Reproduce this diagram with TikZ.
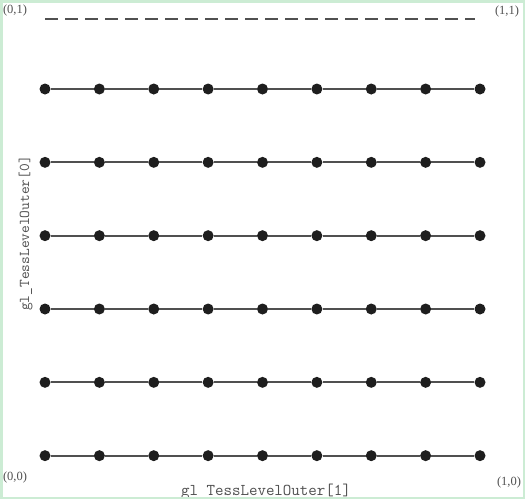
\documentclass[tikz,border=0pt]{standalone}
\usepackage{fontspec}
\setmainfont{Liberation Serif}
\definecolor{frame}{RGB}{204,236,212}
\definecolor{txt}{RGB}{80,80,80}
\definecolor{edge}{RGB}{80,80,80}
\definecolor{dotc}{RGB}{30,30,30}
\begin{document}
\begin{tikzpicture}[x=1pt,y=-1pt,
  dotnode/.style={circle,fill=dotc,inner sep=0pt,minimum size=11pt},
  seg/.style={draw=edge,line width=1.8pt},
  dashline/.style={draw=edge,line width=1.8pt,dash pattern=on 13pt off 7pt},
  corner/.style={text=txt,font=\fontsize{12.5}{14}\selectfont,inner sep=0pt},
  codelabel/.style={text=txt,font=\ttfamily\fontsize{16.5}{18}\selectfont,inner sep=0pt},
  codelabelv/.style={text=txt,font=\ttfamily\fontsize{15}{17}\selectfont,inner sep=0pt}]
\useasboundingbox (0,0) rectangle (525,499);
\fill[white] (0,0) rectangle (525,499);
% dots
\foreach \r [count=\ri] in {89,162.33,235.67,309,382.33,455.67} {
  \foreach \c in {0,...,8} {
    \node[dotnode] (d\ri-\c) at ({45+54.375*\c},\r) {};
  }
}
% connectors
\foreach \ri in {1,...,6} {
  \foreach \c [evaluate=\c as \n using int(\c+1)] in {0,...,7} {
    \draw[seg] (d\ri-\c) -- (d\ri-\n);
  }
}
% dashed top line
\coordinate (dashL) at (45,19);
\coordinate (dashR) at (475,19);
\draw[dashline] (dashL) -- (dashR);
% corner labels
\node[corner] (c01) at (15,10) {(0,1)};
\node[corner] (c11) at (507,11) {(1,1)};
\node[corner] (c00) at (15,477) {(0,0)};
\node[corner] (c10) at (509,482) {(1,0)};
% axis labels
\node[codelabel,anchor=base] (lbx) at (266,495) {gl\_TessLevelOuter[1]};
\node[codelabelv,anchor=base,rotate=90] (lby) at (29,233.5) {gl\_TessLevelOuter[0]};
% frame
\draw[frame,line width=2.5pt] (1.25,1.25) rectangle (523.75,497.75);
\end{tikzpicture}
\end{document}
